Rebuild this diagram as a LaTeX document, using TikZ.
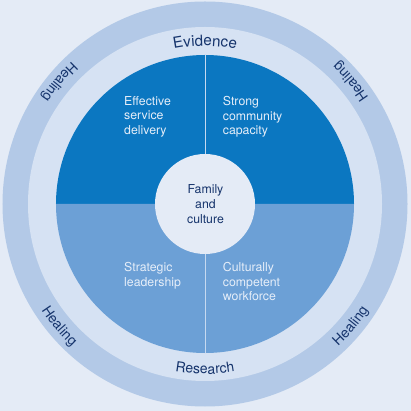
\documentclass[tikz,border=0pt]{standalone}
\usepackage{fontspec}
\setmainfont{TeX Gyre Heros}
\usepackage{tikz}
\usetikzlibrary{decorations.text}
\definecolor{PaleBg}{RGB}{228, 235, 246}
\definecolor{RingOuter}{RGB}{179, 201, 231}
\definecolor{RingMiddle}{RGB}{214, 226, 243}
\definecolor{QuadDark}{RGB}{11, 119, 193}
\definecolor{QuadMid}{RGB}{108, 160, 214}
\definecolor{NavyInk}{RGB}{22, 52, 108}
\definecolor{PaleInk}{RGB}{230, 238, 249}
\definecolor{SplitLine}{RGB}{198, 217, 240}
\newcommand{\ringfont}{\fontsize{14pt}{14pt}\selectfont}
\newcommand{\topfont}{\fontsize{15.2pt}{15pt}\selectfont}

\begin{document}
\begin{tikzpicture}[
        quadtext/.style={anchor=north west, align=left, inner sep=0pt, text=PaleInk, font=\fontsize{12.3pt}{14.8pt}\selectfont},
        coretext/.style={align=center, inner sep=0pt, text=NavyInk, font=\fontsize{12.3pt}{14.8pt}\selectfont},
        ringtext/.style={decorate, decoration={text along path, text align=center, text color=NavyInk}},
        split/.style={draw=SplitLine, line width=1pt}
      ]
        % Background and rings
        \useasboundingbox [fill=PaleBg] (-205pt,-207pt) rectangle (206pt,204pt);
        \coordinate (hub) at (0,0);
        \fill [RingOuter] (hub) circle [radius=202.5pt];
        \fill [RingMiddle] (hub) circle [radius=177pt];

        % Quadrants
        \fill [QuadDark] (hub) -- (180:149pt) arc [start angle=180, end angle=0, radius=149pt] -- cycle;
        \fill [QuadMid] (hub) -- (180:149pt) arc [start angle=180, end angle=360, radius=149pt] -- cycle;
        \coordinate (topedge) at (90:149pt);
        \coordinate (botedge) at (270:149pt);
        \draw [split] (hub) -- (topedge);
        \draw [split] (hub) -- (botedge);
        \fill [PaleBg] (hub) circle [radius=50pt];

        % Nodes
        \node [quadtext] (service) at (-81pt,108pt) {Effective\\service\\delivery};
        \node [quadtext] (community) at (17.7pt,108pt) {Strong\\community\\capacity};
        \node [quadtext] (leadership) at (-81pt,-58pt) {Strategic\\leadership};
        \node [quadtext] (workforce) at (17.7pt,-58pt) {Culturally\\competent\\workforce};
        \node [coretext] (family) at (0.5pt,0pt) {Family\\and\\culture};

        % Ring labels
        \path [ringtext, decoration={text={|\topfont|Evidence}}] (130:158pt) arc [start angle=130, end angle=50, radius=158pt];
        \path [ringtext, decoration={text={|\ringfont|Research}}] (230:170pt) arc [start angle=230, end angle=310, radius=170pt];
        \foreach \ang in {40, 140, 220, 320}
          \path [ringtext, decoration={text={|\ringfont|Healing}}] (\ang-25:195pt) arc [start angle=\ang-25, end angle=\ang+25, radius=195pt];
      \end{tikzpicture}
\end{document}
